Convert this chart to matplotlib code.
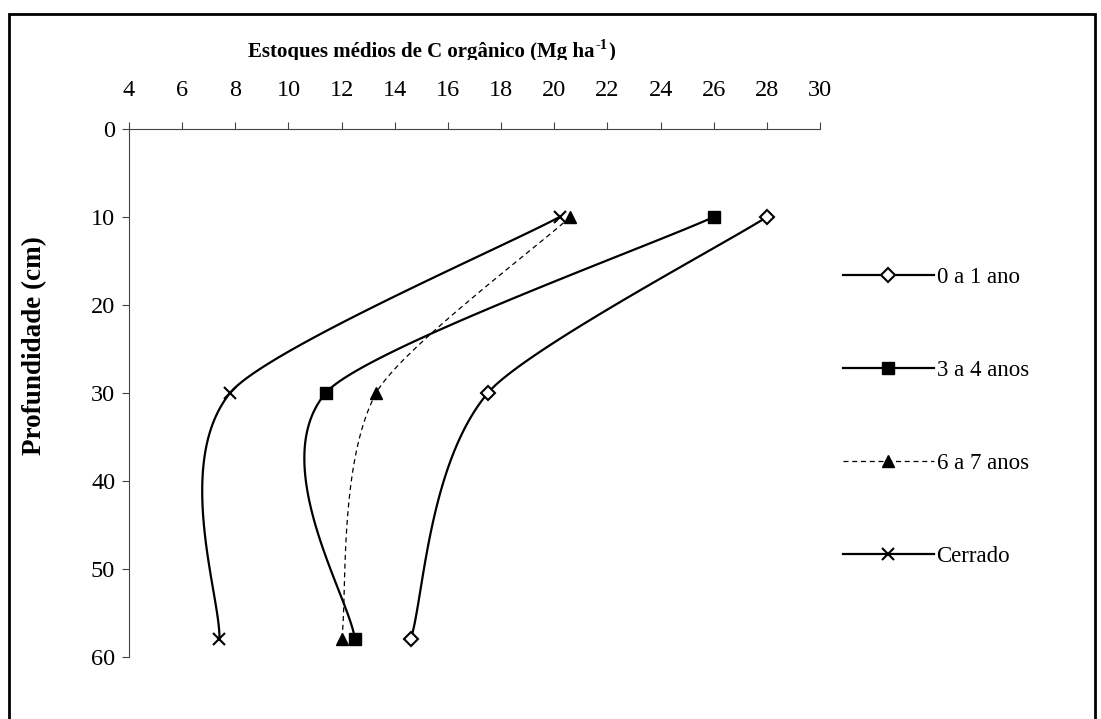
import numpy as np
import matplotlib.pyplot as plt
from matplotlib.patches import Rectangle
from matplotlib.lines import Line2D
from matplotlib.transforms import Bbox

plt.rcParams['font.family'] = ['Liberation Serif', 'DejaVu Serif']

depth = [10, 30, 58]
series_names = ["0 a 1 ano", "3 a 4 anos", "6 a 7 anos", "Cerrado"]
stock_0_1 = [28.0, 17.5, 14.6]
stock_3_4 = [26.0, 11.4, 12.5]
stock_6_7 = [20.6, 13.3, 12.0]
stock_cerrado = [20.2, 7.8, 7.4]

x_ticks = list(range(4, 31, 2))
y_ticks = list(range(0, 61, 10))

# pixels por unidade, para suavizar nas proporcoes da tela
SX = 691 / 26.0
SY = 528 / 60.0
ARM_BEFORE = 0.6  # braco mais curto antes do ponto (como o Excel parece fazer)


def smooth(xs, ys, n=60):
    """curva suavizada tipo Excel (Catmull-Rom -> Bezier)"""
    p = np.c_[np.array(xs) * SX, np.array(ys) * SY]
    p = np.vstack([p[:1], p, p[-1:]])
    out = []
    for i in range(1, len(p) - 2):
        p0, p1, p2, p3 = p[i - 1], p[i], p[i + 1], p[i + 2]
        c1 = p1 + (p2 - p0) / 6
        k = ARM_BEFORE if i + 2 < len(p) - 1 else 1.0
        c2 = p2 - k * (p3 - p1) / 6
        t = np.linspace(0, 1, n)[:, None]
        seg = (1 - t) ** 3 * p1 + 3 * (1 - t) ** 2 * t * c1 + 3 * (1 - t) * t ** 2 * c2 + t ** 3 * p2
        out.append(seg)
    out = np.vstack(out)
    return out[:, 0] / SX, out[:, 1] / SY


fig = plt.figure(figsize=(11.01, 7.19), dpi=100)
ax = fig.add_axes([0.1172, 0.0862, 0.6276, 0.7344])

styles = [
    dict(ls="-", lw=1.6, marker="D", ms=7.5, mfc="white", mec="black", mew=1.5),
    dict(ls="-", lw=1.6, marker="s", ms=8, mfc="black", mec="black"),
    dict(ls=(0, (4, 3)), lw=0.9, marker="^", ms=9, mfc="black", mec="black"),
    dict(ls="-", lw=1.6, marker="x", ms=9, mfc="none", mec="black", mew=1.5),
]
all_series = [stock_0_1, stock_3_4, stock_6_7, stock_cerrado]

handles = []
for name, vals, st in zip(series_names, all_series, styles):
    sx, sy = smooth(vals, depth)
    ax.plot(sx, sy, color="black", ls=st["ls"], lw=st["lw"], zorder=2)
    ax.plot(vals, depth, ls="none", marker=st["marker"], ms=st["ms"],
            mfc=st["mfc"], mec=st["mec"], mew=st.get("mew", 1), zorder=3)
    handles.append(Line2D([], [], color="black", ls=st["ls"], lw=st["lw"],
                          marker=st["marker"], ms=st["ms"], mfc=st["mfc"],
                          mec=st["mec"], mew=st.get("mew", 1), label=name))

ax.set_xlim(4, 30)
ax.set_ylim(60, 0)
ax.xaxis.tick_top()
ax.set_xticks(x_ticks)
ax.set_yticks(y_ticks)
ax.tick_params(axis="both", direction="out", length=5, width=0.8,
               color="#444444", labelsize=17.5, pad=5)
ax.tick_params(axis="x", pad=15)
for side in ["right", "bottom"]:
    ax.spines[side].set_visible(False)
for side in ["left", "top"]:
    ax.spines[side].set_color("#444444")
    ax.spines[side].set_linewidth(0.8)

ax.set_ylabel("Profundidade (cm)", fontsize=19.5, fontweight="bold")
ax.yaxis.set_label_coords(-0.118, 0.59)

# titulo cortado embaixo, como no original
clip = Bbox([[0, 719 - 60], [1101, 719]])
t1 = fig.text(0.2253, 0.9205, "Estoques médios de C orgânico (Mg ha",
              ha="left", va="baseline", fontsize=15, fontweight="bold")
t1.set_clip_box(clip)
t1.set_clip_on(True)
t2 = ax.annotate("-1", xy=(1, 1), xycoords=t1, xytext=(0.5, 2.5), textcoords="offset points",
                 ha="left", va="top", fontsize=10.5, fontweight="bold", annotation_clip=False)
t3 = ax.annotate(")", xy=(1, 0), xycoords=(t2, t1), xytext=(0.5, 0), textcoords="offset points",
                 ha="left", va="bottom", fontsize=15, fontweight="bold", annotation_clip=False)
t3.set_clip_box(clip)
t3.set_clip_on(True)

leg = fig.legend(handles=handles, loc="upper left", bbox_to_anchor=(0.757, 0.641),
                 frameon=False, fontsize=16.5, handlelength=4.0, handletextpad=0.1,
                 labelspacing=3.14, borderaxespad=0)

fig.patches.append(Rectangle((0.008, -0.02), 0.9865, 1.0, transform=fig.transFigure,
                             fill=False, edgecolor="black", lw=2))

fig.savefig("out.png", dpi=100)
